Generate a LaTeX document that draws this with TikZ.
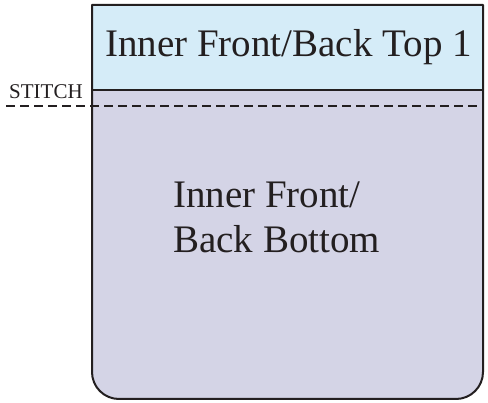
\documentclass[tikz,border=0pt]{standalone}
\usepackage{fontspec}
\setmainfont{Liberation Serif}
\definecolor{topblue}{HTML}{D5ECF8}
\definecolor{botlav}{HTML}{D4D4E6}
\definecolor{ink}{HTML}{231F20}
\begin{document}
\begin{tikzpicture}[x=1pt,y=-1pt,
  edge/.style={draw=ink,line width=2pt},
  lbl/.style={inner sep=0pt,font=\fontsize{39}{45}\selectfont,text=ink}]
\useasboundingbox (0,0) rectangle (488,403);
% bottom panel
\fill[botlav] (92,90) -- (483,90) -- (483,372) arc[start angle=0,end angle=90,radius=27] -- (119,399) arc[start angle=90,end angle=180,radius=27] -- cycle;
% top panel
\fill[topblue] (92,5) rectangle (483,90);
\draw[edge,line join=round] (92,5) -- (483,5) -- (483,372) arc[start angle=0,end angle=90,radius=27] -- (119,399) arc[start angle=90,end angle=180,radius=27] -- cycle;
\draw[edge] (92,90) -- (483,90);
\coordinate (dl) at (6,106);
\coordinate (dr) at (483,106);
\draw[ink,line width=2pt,dash pattern=on 9pt off 5pt] (dl) -- (dr);
\node[lbl,anchor=center] (top) at (288.5,47) {Inner Front/Back Top 1};
\node[lbl,anchor=base west,align=left] (bot) at (173,253) {Inner Front/\\Back Bottom};
\node[inner sep=0pt,anchor=base west,font=\fontsize{21}{21}\selectfont,text=ink] (st) at (9,99) {STITCH};
\end{tikzpicture}
\end{document}
